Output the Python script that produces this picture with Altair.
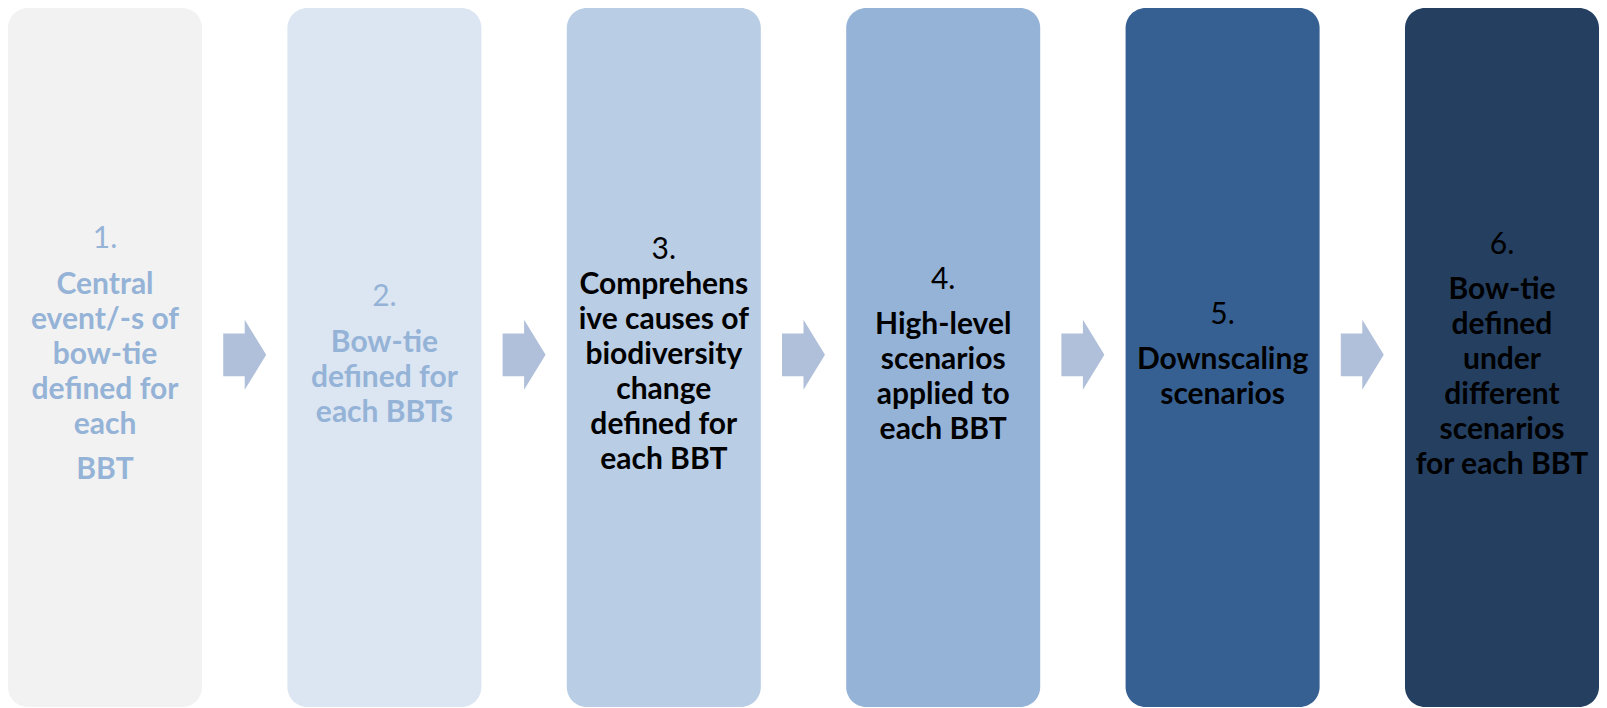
import altair as alt
import pandas as pd

# ---- data -------------------------------------------------------------
step_numbers = ["1.", "2.", "3.", "4.", "5.", "6."]
step_paragraphs = [
    [["Central", "event/-s of", "bow-tie", "defined for", "each"], ["BBT"]],
    [["Bow-tie", "defined for", "each BBTs"]],
    [["Comprehens", "ive causes of", "biodiversity", "change", "defined for", "each BBT"]],
    [["High-level", "scenarios", "applied to", "each BBT"]],
    [["Downscaling", "scenarios"]],
    [["Bow-tie", "defined", "under", "different", "scenarios", "for each BBT"]],
]
number_in_first_paragraph = [False, False, True, False, False, False]
box_fill = ["#F2F2F2", "#DCE6F2", "#B9CDE5", "#95B3D7", "#376092", "#243F60"]
text_fill = ["#95B3D7", "#95B3D7", "#000000", "#000000", "#000000", "#000000"]
arrow_fill = "#B0C0DA"

# ---- layout helpers -----------------------------------------------------
HALF = 0.3472                  # box half width in step units
Y_TOP, Y_BOT = 9.91, -10.06    # vertical domain in line units (0 = text centre)
PARA_GAP = 0.3

boxes = pd.DataFrame({
    "step": list(range(len(step_numbers))),
    "fill": box_fill,
})
boxes["x0"] = boxes["step"] - HALF
boxes["x1"] = boxes["step"] + HALF
boxes["y0"] = Y_BOT
boxes["y1"] = Y_TOP

arrows = pd.DataFrame({"pos": [i + 0.5 for i in range(len(step_numbers) - 1)], "yc": 0.0})

rows = []
for i, (num, paras) in enumerate(zip(step_numbers, step_paragraphs)):
    lines = [(num, False, 0.0)]
    pos = 0.0
    first_gap = 0.0 if number_in_first_paragraph[i] else PARA_GAP
    for p_i, para in enumerate(paras):
        for j, t in enumerate(para):
            extra = 0.0
            if j == 0:
                extra = first_gap if p_i == 0 else PARA_GAP
            pos += 1.0 + extra
            lines.append((t, True, pos))
    mid = pos / 2.0
    for t, bold, p in lines:
        rows.append({"step": i, "text": t, "bold": bold, "y": -(p - mid), "color": text_fill[i]})
text_df = pd.DataFrame(rows)

x_scale = alt.Scale(domain=[-HALF, len(step_numbers) - 1 + HALF], nice=False, zero=False)
y_scale = alt.Scale(domain=[Y_BOT, Y_TOP], nice=False, zero=False)

box_layer = alt.Chart(boxes).mark_rect(cornerRadius=20).encode(
    x=alt.X("x0:Q", scale=x_scale, axis=None),
    x2="x1:Q",
    y=alt.Y("y0:Q", scale=y_scale, axis=None),
    y2="y1:Q",
    color=alt.Color("fill:N", scale=None),
)

arrow_path = "M-0.614,-0.614 L0,-0.614 L0,-1 L0.614,0 L0,1 L0,0.614 L-0.614,0.614 Z"
arrow_layer = alt.Chart(arrows).mark_point(
    shape=arrow_path, filled=True, size=4900, color=arrow_fill, opacity=1, strokeWidth=0
).encode(
    x=alt.X("pos:Q", scale=x_scale, axis=None),
    y=alt.Y("yc:Q", scale=y_scale, axis=None),
)

num_layer = alt.Chart(text_df).transform_filter("!datum.bold").mark_text(
    font="Lato", fontSize=30, fontWeight="normal", baseline="middle", align="center"
).encode(
    x=alt.X("step:Q", scale=x_scale, axis=None),
    y=alt.Y("y:Q", scale=y_scale, axis=None),
    text="text:N",
    color=alt.Color("color:N", scale=None),
)

body_layer = alt.Chart(text_df).transform_filter("datum.bold").mark_text(
    font="Lato", fontSize=30, fontWeight="bold", baseline="middle", align="center"
).encode(
    x=alt.X("step:Q", scale=x_scale, axis=None),
    y=alt.Y("y:Q", scale=y_scale, axis=None),
    text="text:N",
    color=alt.Color("color:N", scale=None),
)

chart = alt.layer(box_layer, arrow_layer, num_layer, body_layer).properties(
    width=1591, height=699, padding=0, autosize="none"
).configure_view(stroke=None)

chart.save("out.html", embed_options={"renderer": "svg", "actions": False})
